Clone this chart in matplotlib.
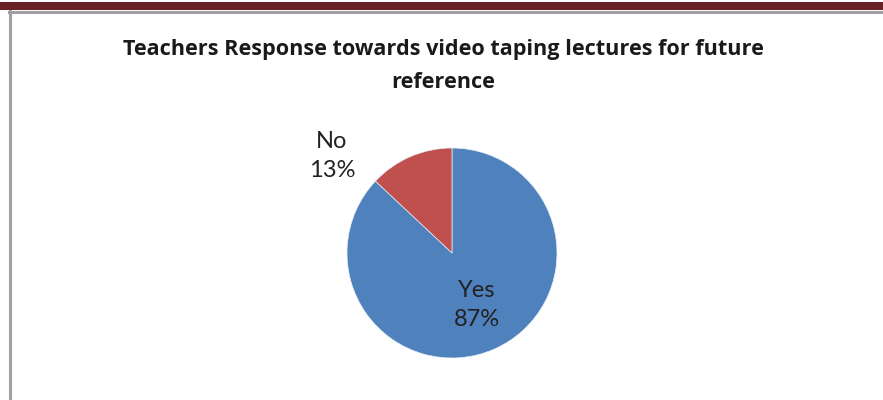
import matplotlib.pyplot as plt
from matplotlib.patches import Rectangle
from matplotlib.lines import Line2D

labels = ["Yes", "No"]
shares = [87, 13]
colors = ["#4F81BD", "#C0504D"]

W, H = 883, 400
fig = plt.figure(figsize=(W / 100, H / 100), dpi=100)
fig.patch.set_facecolor("white")

# page header bar and chart frame
fig.add_artist(Rectangle((0, 1 - 10 / H), 1, 8 / H, transform=fig.transFigure,
                         color="#662224", lw=0))
fig.add_artist(Line2D([9 / W, 1], [1 - 11.5 / H, 1 - 11.5 / H], transform=fig.transFigure,
                      color="#A0A0A0", lw=2.2))
fig.add_artist(Line2D([9.5 / W, 9.5 / W], [0, 1 - 11 / H], transform=fig.transFigure,
                      color="#A0A0A0", lw=2.2))

title_font = dict(family="Open Sans", weight="bold", size=15.6, color="#1a1a1a", ha="center", va="center")
fig.text(443 / W, 1 - 49 / H, "Teachers Response towards video taping lectures for future", **title_font)
fig.text(443 / W, 1 - 83 / H, "reference", **title_font)

r = 105
ax = fig.add_axes([(452 - r) / W, (H - 253 - r) / H, 2 * r / W, 2 * r / H])
ax.pie(shares, colors=colors, startangle=90, counterclock=False,
       wedgeprops=dict(linewidth=0.5, edgecolor="#e8eef6"))
ax.set_xlim(-1, 1)
ax.set_ylim(-1, 1)
ax.set_aspect("equal")
ax.axis("off")

lab_font = dict(family="Lato", size=17, color="#222222", ha="center", va="center", linespacing=1.5)
fig.text(477 / W, 1 - 305 / H, f"{labels[0]}\n{shares[0]}%", **lab_font)
fig.text(332 / W, 1 - 156 / H, f"{labels[1]}\n{shares[1]}%", **lab_font)

fig.savefig("out.png", dpi=100)
